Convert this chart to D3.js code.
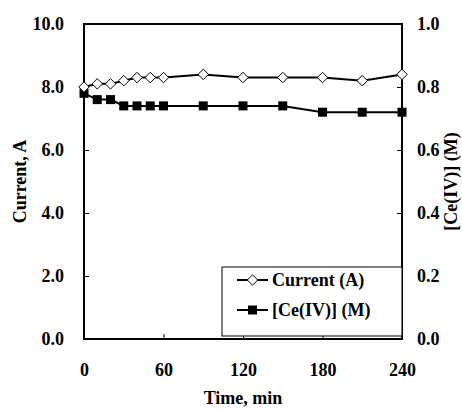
<!DOCTYPE html>
<html><head><meta charset="utf-8">
<script src="https://cdn.jsdelivr.net/npm/d3@7"></script>
<style>body{margin:0;background:#fff}svg{display:block}text{font-family:"Liberation Serif","Times New Roman",serif;font-weight:bold;fill:#000}</style>
</head><body><svg id="c" width="462" height="410"></svg>
<script>
const times = [0,10,20,30,40,50,60,90,120,150,180,210,240];
const currentA = [8.0,8.1,8.1,8.2,8.3,8.3,8.3,8.4,8.3,8.3,8.3,8.2,8.4];
const ceIV = [0.78,0.76,0.76,0.74,0.74,0.74,0.74,0.74,0.74,0.74,0.72,0.72,0.72];
const xTicks = [0,60,120,180,240];
const yLeftTicks = [0,2,4,6,8,10];
const yRightTicks = [0,0.2,0.4,0.6,0.8,1.0];
const seriesNames = ["Current (A)","[Ce(IV)] (M)"];

const svg = d3.select("#c");
const L=84,R=402,T=24,B=339;
const x = d3.scaleLinear().domain([0,240]).range([L,R]);
const yL = d3.scaleLinear().domain([0,10]).range([B,T]);
const yR = d3.scaleLinear().domain([0,1]).range([B,T]);

// axes
const gx = svg.append("g").attr("transform",`translate(0,${B})`)
  .call(d3.axisBottom(x).tickValues(xTicks).tickFormat(d3.format("d")).tickSize(-5).tickSizeOuter(0).tickPadding(24));
const gl = svg.append("g").attr("transform",`translate(${L},0)`)
  .call(d3.axisLeft(yL).tickValues(yLeftTicks).tickFormat(d3.format(".1f")).tickSize(-5).tickSizeOuter(0).tickPadding(20));
const gr = svg.append("g").attr("transform",`translate(${R},0)`)
  .call(d3.axisRight(yR).tickValues(yRightTicks).tickFormat(d3.format(".1f")).tickSize(-5).tickSizeOuter(0).tickPadding(15));
[gx,gl,gr].forEach(g=>{
  g.select(".domain").remove();
  g.selectAll("line").attr("stroke","#000").attr("stroke-width",1);
  g.selectAll("text").style("font-size","18px").style("font-family",'"Liberation Serif",serif').style("font-weight","bold");
});
gx.selectAll("text").attr("dy","0.71em");

// frame
svg.append("rect").attr("x",L).attr("y",T).attr("width",R-L).attr("height",B-T)
  .attr("fill","none").attr("stroke","#000").attr("stroke-width",2);

// titles
svg.append("text").attr("x",(L+R)/2).attr("y",404).attr("text-anchor","middle").style("font-size","18px").text("Time, min");
svg.append("text").attr("transform",`translate(26,${(T+B)/2}) rotate(-90)`).attr("text-anchor","middle").style("font-size","18px").text("Current, A");
svg.append("text").attr("transform",`translate(457,${(T+B)/2}) rotate(-90)`).attr("text-anchor","middle").style("font-size","18px").text("[Ce(IV)] (M)");

const cur = times.map((t,i)=>({t,v:currentA[i]}));
const ce = times.map((t,i)=>({t,v:ceIV[i]}));
const diamond = d3.symbol().type(d3.symbolDiamond2).size(70);

// Ce series
svg.append("path").datum(ce).attr("fill","none").attr("stroke","#000").attr("stroke-width",2)
  .attr("d",d3.line().x(d=>x(d.t)).y(d=>yR(d.v)));
svg.selectAll(".sq").data(ce).enter().append("rect").attr("class","sq")
  .attr("x",d=>x(d.t)-4.5).attr("y",d=>yR(d.v)-4.5).attr("width",9).attr("height",9).attr("fill","#000");

// Current series
svg.append("path").datum(cur).attr("fill","none").attr("stroke","#000").attr("stroke-width",2)
  .attr("d",d3.line().x(d=>x(d.t)).y(d=>yL(d.v)));
svg.selectAll(".dm").data(cur).enter().append("path").attr("class","dm")
  .attr("transform",d=>`translate(${x(d.t)},${yL(d.v)})`).attr("d",diamond)
  .attr("fill","#fff").attr("stroke","#000").attr("stroke-width",1);

// legend
const lg = svg.append("g");
lg.append("rect").attr("x",222).attr("y",267).attr("width",180).attr("height",69)
  .attr("fill","#fff").attr("stroke","#000").attr("stroke-width",1);
const rows=[280,310];
rows.forEach((ry,i)=>{
  lg.append("line").attr("x1",237).attr("x2",268).attr("y1",ry).attr("y2",ry).attr("stroke","#000").attr("stroke-width",2);
  if(i===0) lg.append("path").attr("transform",`translate(252.5,${ry})`).attr("d",diamond).attr("fill","#fff").attr("stroke","#000");
  else lg.append("rect").attr("x",248).attr("y",ry-4.5).attr("width",9).attr("height",9).attr("fill","#000");
  lg.append("text").attr("x",272).attr("y",ry).attr("dy","0.33em").style("font-size","18px").text(seriesNames[i]);
});
</script></body></html>
